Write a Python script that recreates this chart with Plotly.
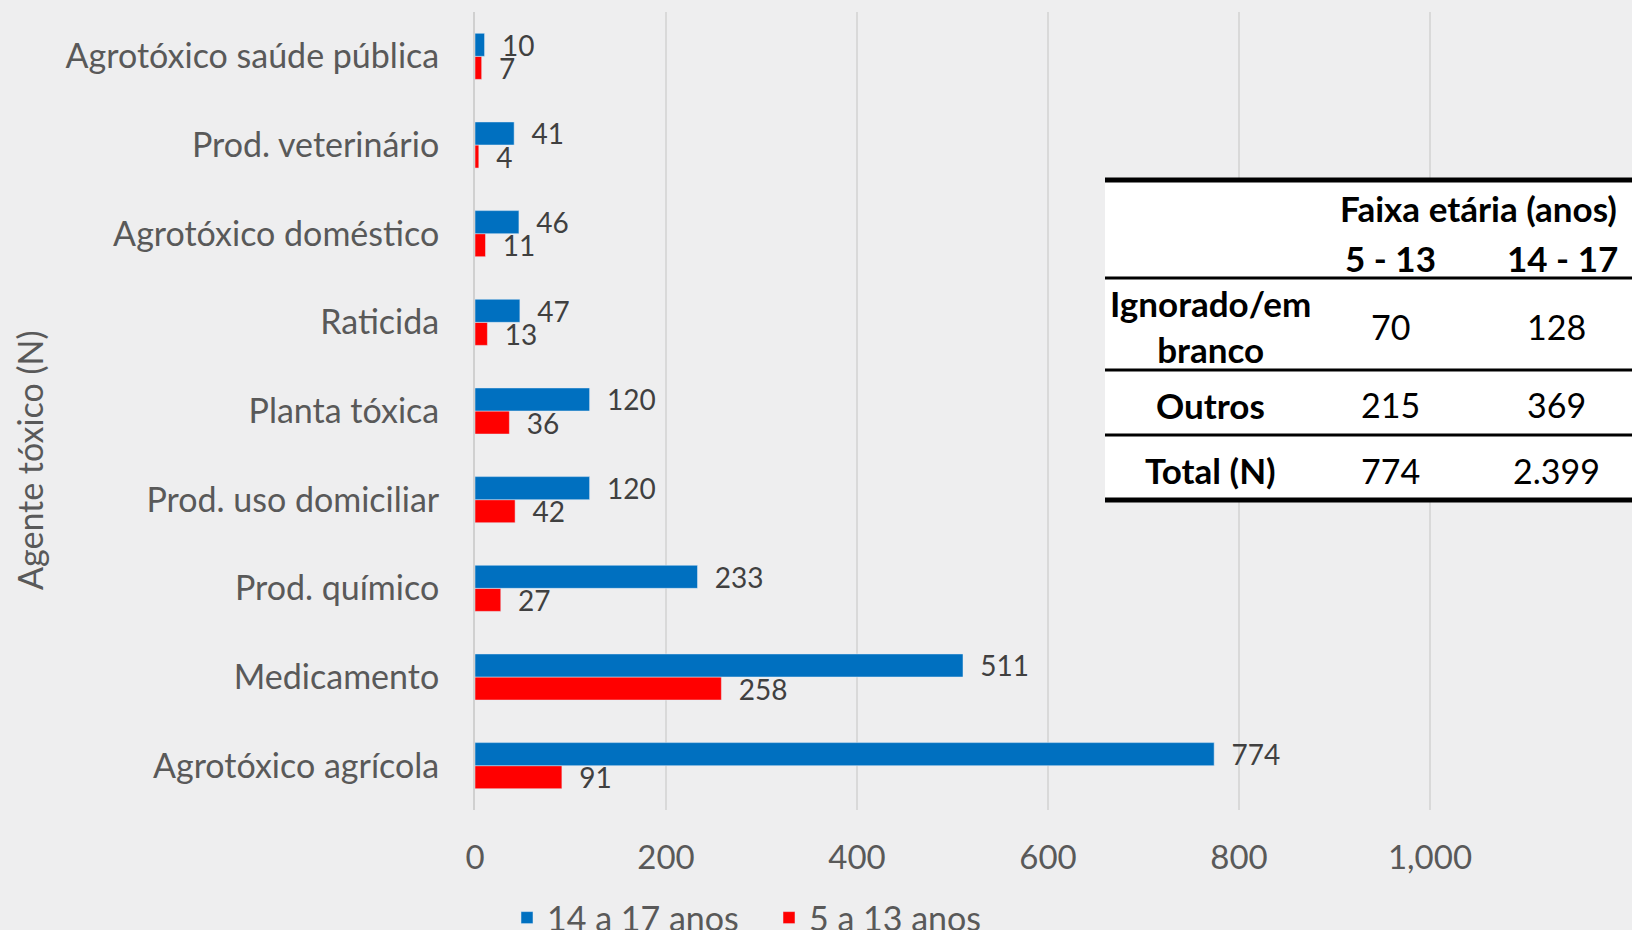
import plotly.graph_objects as go

# dados
categorias = ["Agrotóxico agrícola", "Medicamento", "Prod. químico", "Prod. uso domiciliar",
              "Planta tóxica", "Raticida", "Agrotóxico doméstico", "Prod. veterinário",
              "Agrotóxico saúde pública"]
anos_14_17 = [774, 511, 233, 120, 120, 47, 46, 41, 10]
anos_5_13 = [91, 258, 27, 42, 36, 13, 11, 4, 7]

tab_linhas = ["Ignorado/em<br>branco", "Outros", "Total (N)"]
tab_5_13 = ["70", "215", "774"]
tab_14_17 = ["128", "369", "2.399"]

W, H = 1632, 930
L, T, B = 475, 12, 120
PW, PH = W - L, H - T - B

def px(x):
    return (x - L) / PW

def py(y):
    return (H - B - y) / PH

FONT = "Lato"
CINZA = "#595959"

fig = go.Figure()

fig.add_trace(go.Bar(
    y=categorias, x=anos_5_13, orientation="h", name="5 a 13 anos",
    marker=dict(color="#ff0000"),
    texttemplate="  %{x}", textposition="outside", constraintext="none", cliponaxis=False,
    textfont=dict(family=FONT, size=28, color="#404040"),
))
fig.add_trace(go.Bar(
    y=categorias, x=anos_14_17, orientation="h", name="14 a 17 anos",
    marker=dict(color="#0070c0"),
    texttemplate="  %{x}", textposition="outside", constraintext="none", cliponaxis=False,
    textfont=dict(family=FONT, size=28, color="#404040"),
))

# tabela (caixa branca + linhas)
fig.add_shape(type="rect", xref="paper", yref="paper", x0=px(1105), x1=1.0, y0=py(500), y1=py(180),
              fillcolor="white", line=dict(width=0), layer="above")
for yy, w in [(180, 5), (278, 3), (370, 3), (435, 3), (500, 5)]:
    fig.add_shape(type="line", xref="paper", yref="paper", x0=px(1105), x1=1.0, y0=py(yy), y1=py(yy),
                  line=dict(color="black", width=w), layer="above")

def txt(x, y, s, bold=False, size=34):
    fig.add_annotation(xref="paper", yref="paper", x=px(x), y=py(y), text=s, showarrow=False,
                       xanchor="center", yanchor="middle",
                       font=dict(family=FONT, size=size, color="black",
                                 weight="bold" if bold else "normal"))

txt(1478, 208, "Faixa etária (anos)", bold=True, size=35)
txt(1390, 258, "5 - 13", bold=True, size=35)
txt(1562, 258, "14 - 17", bold=True, size=35)
for lab, a, b, yy in zip(tab_linhas, tab_5_13, tab_14_17, [326, 405, 470]):
    txt(1210, yy, lab, bold=True, size=35)
    txt(1390, yy, a)
    txt(1556, yy, b)

# título do eixo y
fig.add_annotation(xref="paper", yref="paper", x=px(29), y=py(460), text="Agente tóxico (N)",
                   textangle=-90, showarrow=False, xanchor="center", yanchor="middle",
                   font=dict(family=FONT, size=34, color=CINZA))

fig.update_layout(
    width=W, height=H,
    margin=dict(l=L, r=0, t=T, b=B, autoexpand=False),
    paper_bgcolor="#eeeeef", plot_bgcolor="rgba(0,0,0,0)",
    barmode="group", bargap=0.48, bargroupgap=0,
    font=dict(family=FONT, color=CINZA),
    legend=dict(orientation="h", traceorder="reversed", x=px(507), y=py(889), xanchor="left", yanchor="top",
                entrywidth=217, font=dict(family=FONT, size=34, color=CINZA), bgcolor="rgba(0,0,0,0)"),
    xaxis=dict(range=[0, PW / 0.955], tickvals=[0, 200, 400, 600, 800, 1000], tickformat=",",
               showgrid=True, gridcolor="#d9d9d9", gridwidth=2, zeroline=False,
               tickfont=dict(family=FONT, size=33, color=CINZA), ticklabelstandoff=25),
    yaxis=dict(showline=True, linecolor="#d0d0d0", linewidth=2, showgrid=False,
               tickfont=dict(family=FONT, size=34, color=CINZA), ticklabelstandoff=27),
)

fig.write_html("out.html", config={"displayModeBar": False},
               post_script="document.body.style.margin='0';document.body.style.overflow='hidden';")
